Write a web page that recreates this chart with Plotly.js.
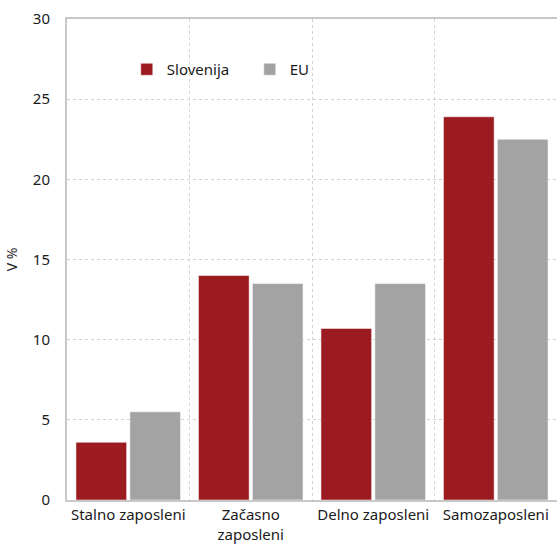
<!DOCTYPE html>
<html><head><meta charset="utf-8">
<script src="https://cdn.plot.ly/plotly-3.0.1.min.js"></script>
<style>html,body{margin:0;padding:0;background:#fff;overflow:hidden}</style>
</head><body>
<div id="chart" style="width:557px;height:544px"></div>
<script>
const categories = ["Stalno zaposleni", "Začasno<br>zaposleni", "Delno zaposleni", "Samozaposleni"];
const sloValues = [3.6, 14.0, 10.7, 23.9];
const euValues = [5.5, 13.5, 13.5, 22.5];
const yTicks = [0, 5, 10, 15, 20, 25, 30];

const fam = "Noto Sans, sans-serif";
const font = {family: fam, size: 15, color: "#1a1a1a"};
const traces = [
  {type: "bar", name: "Slovenija", x: categories, y: sloValues,
   marker: {color: "#9B1B20", line: {color: "#ffffff", width: 0.5}}},
  {type: "bar", name: "EU", x: categories, y: euValues,
   marker: {color: "#A3A3A3", line: {color: "#ffffff", width: 0.5}}}
];
const layout = {
  width: 557, height: 544,
  margin: {l: 67, r: 0, t: 19, b: 44},
  paper_bgcolor: "#fff", plot_bgcolor: "#fff",
  font: font,
  barmode: "group", bargap: 0.12, bargroupgap: 0.06,
  showlegend: true,
  legend: {orientation: "h", x: 0.122, y: 0.895, xanchor: "left", yanchor: "middle",
    font: {family: fam, size: 15, color: "#1a1a1a"},
    itemwidth: 30, entrywidth: 78, traceorder: "normal", bgcolor: "rgba(0,0,0,0)"},
  xaxis: {tickson: "boundaries", showgrid: true, gridcolor: "#d2d2d2", griddash: "dot", gridwidth: 1,
    showline: true, linecolor: "#c8c8c8", linewidth: 2, mirror: true, ticks: "", zeroline: false,
    automargin: false, tickangle: 0,
    tickfont: {family: fam, size: 15, color: "#1a1a1a"}, fixedrange: true},
  yaxis: {range: [0, 30], tickvals: yTicks, ticktext: yTicks.map(String), automargin: false,
    showgrid: true, gridcolor: "#d2d2d2", griddash: "dot", gridwidth: 1,
    showline: true, linecolor: "#c8c8c8", linewidth: 2, zeroline: false, ticks: "",
    ticklabelstandoff: 12,
    tickfont: {family: fam, size: 15, color: "#1a1a1a"},
    title: {text: "V %", standoff: 12, font: {family: fam, size: 14, color: "#1a1a1a"}}}
};
Plotly.newPlot("chart", traces, layout, {displayModeBar: false, staticPlot: true});
</script>
</body></html>
